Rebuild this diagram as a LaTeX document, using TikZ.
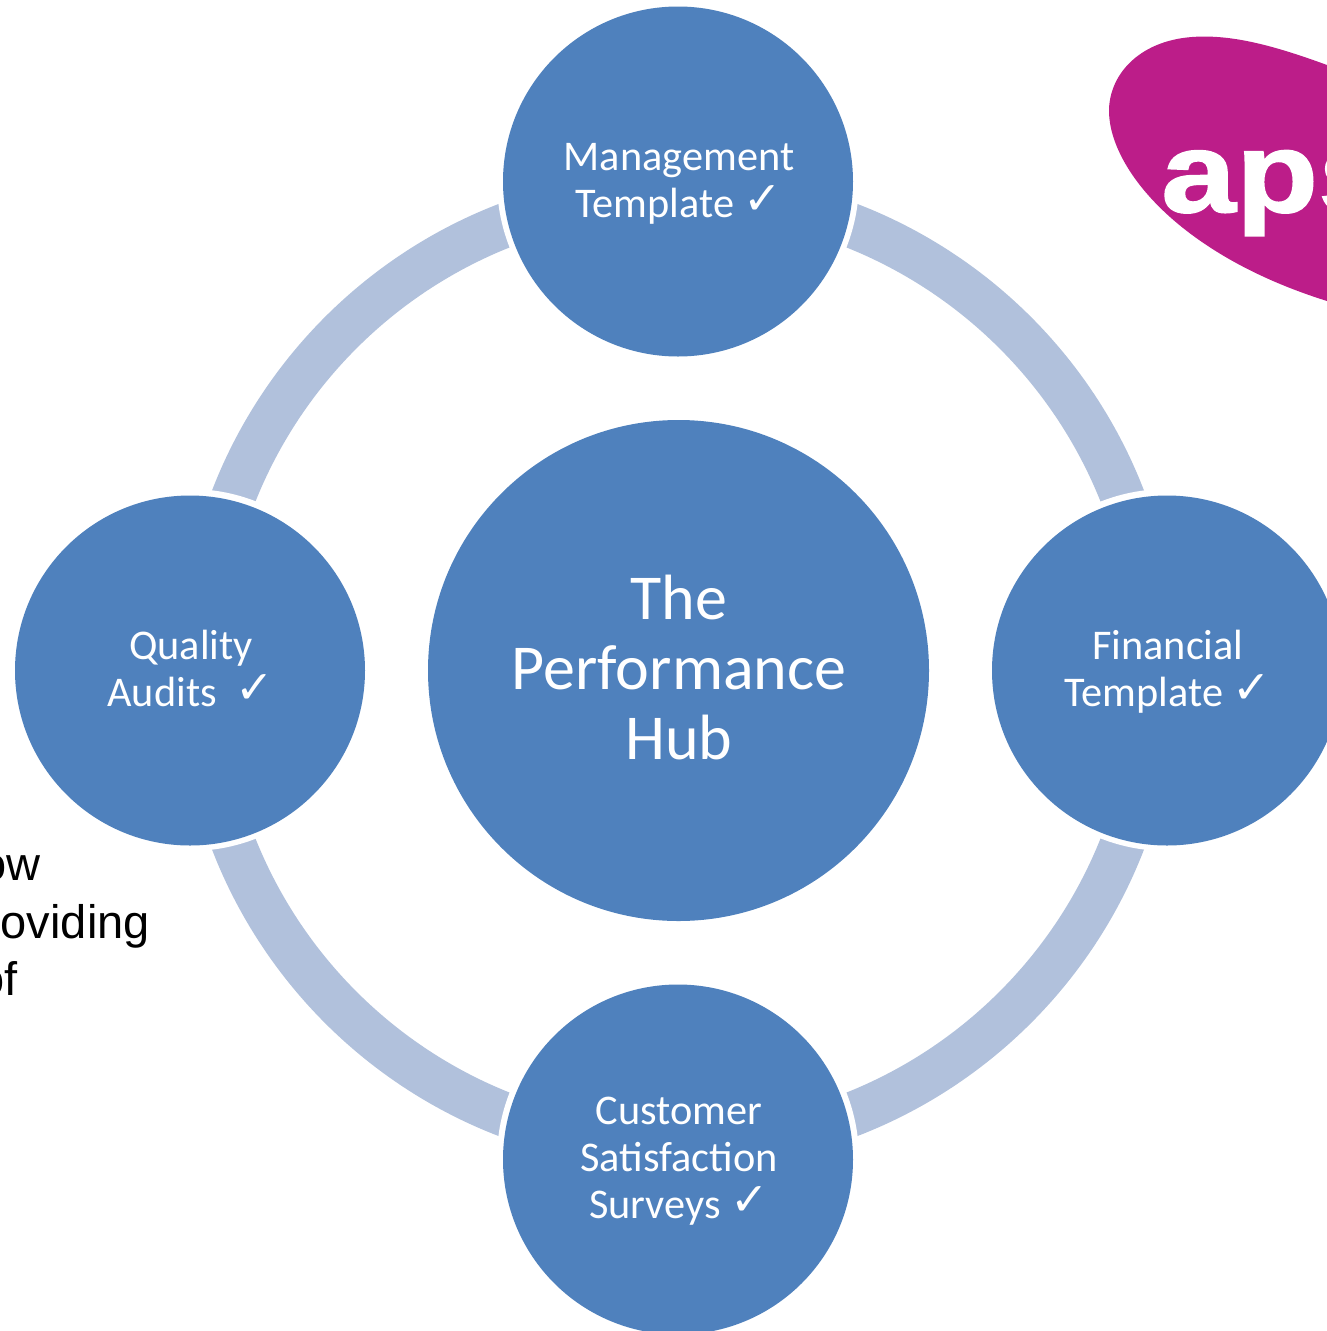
\documentclass[tikz,border=0pt]{standalone}
\usepackage{fontspec}
\setmainfont{Carlito}
\newfontfamily\arialfont{Liberation Sans}
\newfontfamily\markfont{DejaVu Sans}
\newfontfamily\logofont[FakeStretch=1.18,FakeBold=1.5]{Liberation Sans Bold}
\definecolor{hubblue}{HTML}{4F81BD}
\definecolor{ringblue}{HTML}{B1C1DC}
\definecolor{logopink}{HTML}{BC1D89}
\newcommand{\tick}{\smash{\raisebox{3pt}{\markfont\fontsize{46}{46}\selectfont ✓}}}
\tikzset{
  disc/.style={circle,fill=hubblue,inner sep=0pt},
  halo/.style={circle,fill=white,inner sep=0pt,minimum size=362pt},
  ringarc/.style={draw=ringblue,line width=44.5pt},
  disctext/.style={inner sep=0pt,text=white,align=center,font=\fontsize{42.3}{47}\selectfont},
  sidetext/.style={anchor=base east,inner sep=0pt,text=black,font=\arialfont\fontsize{47}{47}\selectfont},
}
\begin{document}
\begin{tikzpicture}[x=1pt,y=-1pt]
\useasboundingbox (0,0) rectangle (1327,1331);
\clip (0,0) rectangle (1327,1331);
% logo
\fill[logopink] (1327,65) .. controls (1275,46) and (1232,34) .. (1192,37)
  .. controls (1138,41) and (1108,76) .. (1109,113)
  .. controls (1111,170) and (1180,255) .. (1327,301) -- cycle;
\node[anchor=base west,inner sep=0pt,text=white,font=\logofont\fontsize{114}{114}\selectfont] (logotext) at (1161,212) {aps};
% side text
\node[sidetext] (sideA) at (41,880) {ow};
\node[sidetext] (sideB) at (150,938) {oviding};
\node[sidetext] (sideC) at (18,995) {of};
% ring
\coordinate (mid) at (678,670);
\draw[ringarc] (mid) ++(90:477) arc[start angle=90,end angle=-270,radius=477];
% halos and discs
\foreach \n/\x/\y in {a/678/181,b/1167/670,c/678/1159,d/190/670}
  \node[halo] (halo\n) at (\x,\y) {};
\node[disc,minimum size=350pt] (top) at (678,181.5) {};
\node[disc,minimum size=350pt] (right) at (1167,670.5) {};
\node[disc,minimum size=350pt] (bottom) at (678,1159.5) {};
\node[disc,minimum size=350pt] (left) at (190,670.5) {};
\node[disc,minimum size=501pt] (hub) at (678.5,670.5) {};
\node[disctext] (topText) at (679,184) {Management\\Template \tick};
\node[disctext] (rightText) at (1168,672) {Financial\\Template \tick};
\node[disctext] (bottomText) at (679,1161) {Customer\\Satisfaction\\Surveys \tick};
\node[disctext] (leftText) at (191,668) {Quality\\Audits~~\tick};
\node[disctext,font=\fontsize{64}{70}\selectfont] (hubText) at (679,668) {The\\Performance\\Hub};
\end{tikzpicture}
\end{document}
